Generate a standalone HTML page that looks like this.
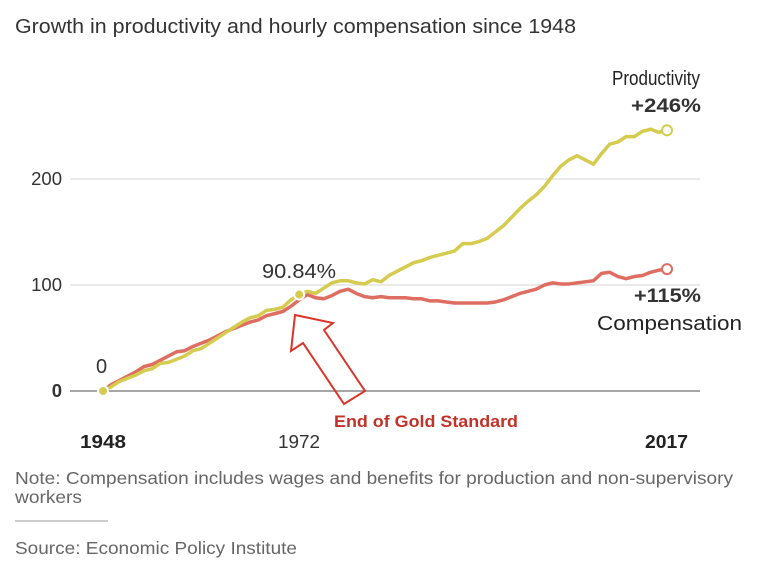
<!DOCTYPE html>
<html><head><meta charset="utf-8"><style>
body{margin:0;background:#fff;font-family:"Liberation Sans",sans-serif;}
svg text{font-family:"Liberation Sans",sans-serif;}
</style></head><body>
<svg width="779" height="570">
<text x="15" y="33" font-size="20" fill="#333" textLength="561" lengthAdjust="spacingAndGlyphs">Growth in productivity and hourly compensation since 1948</text>
<g id="grid"></g>
<g id="lines"></g>
<polygon points="295,315 291,351 303,343 344,404 365,391 324,330 333,323" fill="none" stroke="#d9352a" stroke-width="2"/>
<text x="334" y="427" font-size="16.5" font-weight="bold" fill="#c0322a" textLength="184" lengthAdjust="spacingAndGlyphs">End of Gold Standard</text>
<text x="612" y="85" font-size="20" fill="#222" textLength="88" lengthAdjust="spacingAndGlyphs">Productivity</text>
<text x="631" y="112" font-size="19" font-weight="bold" fill="#333" textLength="70" lengthAdjust="spacingAndGlyphs">+246%</text>
<text x="634" y="302" font-size="19" font-weight="bold" fill="#333" textLength="67" lengthAdjust="spacingAndGlyphs">+115%</text>
<text x="597" y="330" font-size="20.5" fill="#222" textLength="145" lengthAdjust="spacingAndGlyphs">Compensation</text>
<text x="262" y="278" font-size="20" fill="#333" textLength="74" lengthAdjust="spacingAndGlyphs">90.84%</text>
<text x="96" y="373" font-size="20" fill="#333">0</text>
<text x="80" y="448" font-size="18" font-weight="bold" fill="#222" textLength="46" lengthAdjust="spacingAndGlyphs">1948</text>
<text x="278" y="448" font-size="18" fill="#333" textLength="42" lengthAdjust="spacingAndGlyphs">1972</text>
<text x="645" y="448" font-size="18" font-weight="bold" fill="#222" textLength="43" lengthAdjust="spacingAndGlyphs">2017</text>
<text x="15" y="484" font-size="17.5" fill="#666" textLength="718" lengthAdjust="spacingAndGlyphs">Note: Compensation includes wages and benefits for production and non-supervisory</text>
<text x="15" y="503" font-size="17.5" fill="#666" textLength="67" lengthAdjust="spacingAndGlyphs">workers</text>
<line x1="15" y1="521" x2="108" y2="521" stroke="#ccc" stroke-width="2"/>
<text x="15" y="554" font-size="17.5" fill="#666" textLength="282" lengthAdjust="spacingAndGlyphs">Source: Economic Policy Institute</text>
</svg>
<script>
const years=[];for(let y=1948;y<=2017;y++)years.push(y);
const productivity=[0,4,9,12,15,19,21,26,27,30,33,38,40,45,50,55,60,65,69,71,76,77,79,86,91,94,92,97,102,104,104,102,101,105,103,109,113,117,121,123,126,128,130,132,139,139,141,144,150,156,164,172,179,185,193,203,212,218,222,218,214,224,233,235,240,240,245,247,244,246];
const compensation=[0,6,10,14,18,23,25,29,33,37,38,42,45,48,52,56,59,62,65,67,71,73,75,80,86,91,88,87,90,94,96,92,89,88,89,88,88,88,87,87,85,85,84,83,83,83,83,83,84,86,89,92,94,96,100,102,101,101,102,103,104,111,112,108,106,108,109,112,114,115];
const yTicks=[0,100,200];
const X=y=>103+(y-1948)*8.174, Y=v=>391-v*1.06;
const NS='http://www.w3.org/2000/svg';
const grid=document.getElementById('grid'), lines=document.getElementById('lines');
yTicks.forEach(t=>{
  const l=document.createElementNS(NS,'line');
  l.setAttribute('x1',70);l.setAttribute('x2',700);l.setAttribute('y1',Y(t));l.setAttribute('y2',Y(t));
  l.setAttribute('stroke',t===0?'#888':'#ddd');l.setAttribute('stroke-width',t===0?1.5:1.2);
  
  
  grid.appendChild(l);
  const tx=document.createElementNS(NS,'text');
  tx.setAttribute('x',62);tx.setAttribute('y',Y(t)+6);tx.setAttribute('text-anchor','end');
  tx.setAttribute('font-size',18.5);tx.setAttribute('fill','#333');
  if(t===0)tx.setAttribute('font-weight','bold');
  tx.textContent=t;
  
  
  grid.appendChild(tx);
});
function line(vals,color,name){
  const p=document.createElementNS(NS,'polyline');
  p.setAttribute('points',vals.map((v,i)=>X(years[i])+','+Y(v)).join(' '));
  p.setAttribute('fill','none');p.setAttribute('stroke',color);p.setAttribute('stroke-width',3.5);p.setAttribute('stroke-linejoin','round');
  
  
  lines.appendChild(p);
}
line(compensation,'#de6e62','compensation-line');
line(productivity,'#d5cc4f','productivity-line');
function dot(year,v,fill,stroke,name){
  const c=document.createElementNS(NS,'circle');
  c.setAttribute('cx',X(year));c.setAttribute('cy',Y(v));c.setAttribute('r',5);
  c.setAttribute('fill',fill);c.setAttribute('stroke',stroke);c.setAttribute('stroke-width',2);
  
  
  lines.appendChild(c);
}
dot(1948,productivity[0],'#d5cc4f','#fff','dot-1948');
dot(1972,productivity[24],'#d5cc4f','#fff','dot-1972');
dot(2017,productivity[69],'#fff','#d5cc4f','dot-productivity-end');
dot(2017,compensation[69],'#fff','#de6e62','dot-compensation-end');
</script>
</body></html>
